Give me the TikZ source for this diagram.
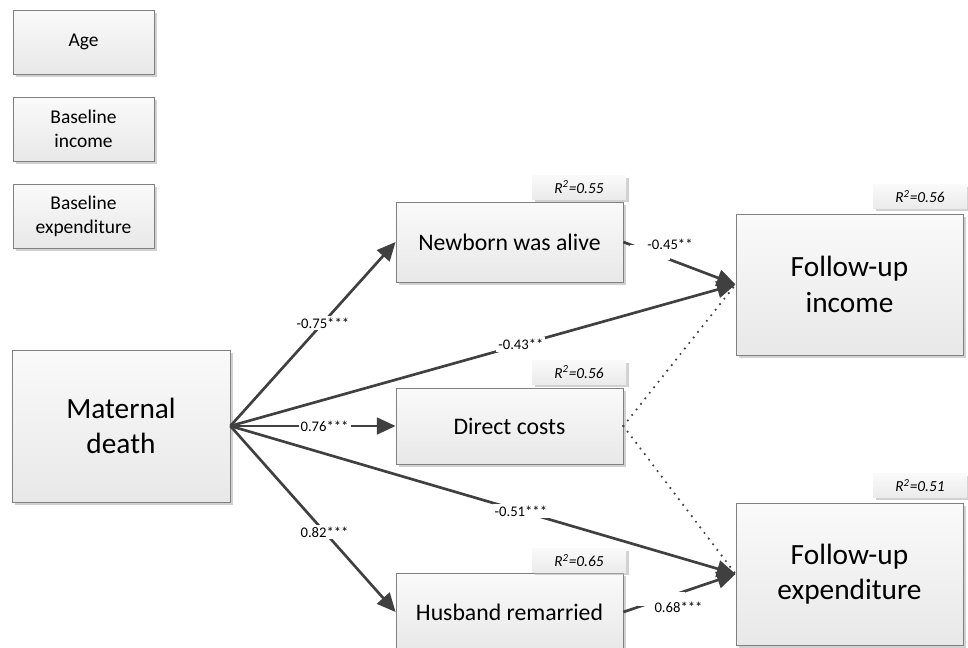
\documentclass[tikz,border=0pt]{standalone}
\usepackage{fontspec}
\setmainfont{Carlito}
\usetikzlibrary{arrows.meta,shadows}
\definecolor{edgegray}{HTML}{808080}
\definecolor{pathgray}{HTML}{404040}
\tikzset{
  boxshadow/.style={drop shadow={shadow xshift=2.2pt,shadow yshift=-2.2pt,fill=black!30,opacity=.6}},
  varbox/.style={draw=edgegray,line width=0.6pt,top color=white!98!black,bottom color=white!91!black,
    boxshadow,align=center,inner sep=2pt},
  smallbox/.style={varbox,minimum width=105.75pt,minimum height=48pt,font=\fontsize{14.6}{18}\selectfont},
  midbox/.style={varbox,minimum width=170.25pt,font=\fontsize{17.8}{21}\selectfont},
  bigbox/.style={varbox,font=\fontsize{22}{26.5}\selectfont},
  rbox/.style={top color=white!98!black,bottom color=white!92!black,boxshadow,
    minimum width=70.5pt,minimum height=18pt,inner sep=0pt,font=\fontsize{11.5}{13}\selectfont\itshape},
  path/.style={draw=pathgray,line width=2pt,-{Triangle[length=14pt,width=12.5pt]}},
  dotpath/.style={draw=pathgray,line width=1.8pt,line cap=round,dash pattern=on 0pt off 5.3pt},
  coef/.style={fill=white,inner sep=1.5pt,font=\fontsize{11}{13}\selectfont},
  gap/.style={fill=white,inner sep=0pt},
  coeftext/.style={inner sep=0pt,font=\fontsize{11}{13}\selectfont},
}
\begin{document}
\begin{tikzpicture}[x=0.75pt,y=-0.75pt]
\useasboundingbox (0,0) rectangle (968,647);
\clip (0,0) rectangle (968,647);

% control variables
\node[smallbox] (age)  at (83.5,42)  {Age};
\node[smallbox] (binc) at (83.5,129) {Baseline\\income};
\node[smallbox] (bexp) at (83.5,216) {Baseline\\expenditure};

% exposure, mediators and outcomes
\node[bigbox,minimum width=163.5pt,minimum height=114pt] (mat) at (121,426) {Maternal\\death};
\node[midbox,minimum height=60pt] (newb)  at (509.5,242) {Newborn was alive};
\node[midbox,minimum height=57pt] (dcost) at (509.5,426) {Direct costs};
\node[midbox,minimum height=58.5pt] (husb) at (509.5,612) {Husband remarried};
\node[bigbox,minimum width=170.25pt,minimum height=105.75pt] (finc) at (849.5,284.5) {Follow-up\\income};
\node[bigbox,minimum width=170.25pt,minimum height=106.5pt] (fexp) at (849.5,574) {Follow-up\\expenditure};

% explained variance
\node[rbox] (r1) at (579,187)   {R\textsuperscript{2}=0.55};
\node[rbox] (r2) at (579,372)   {R\textsuperscript{2}=0.56};
\node[rbox] (r3) at (579,560.5) {R\textsuperscript{2}=0.65};
\node[rbox] (r4) at (920,196.5) {R\textsuperscript{2}=0.56};
\node[rbox] (r5) at (920,485.5) {R\textsuperscript{2}=0.51};

% non-significant paths
\draw[dotpath] (dcost.east) -- (finc.west);
\draw[dotpath] (dcost.east) -- (fexp.west);

% significant paths
\draw[path] (mat.east) -- node[coef,pos=0.56] {-0.75***} (newb.west);
\draw[path] (mat.east) -- node[coef,pos=0.57] {0.76***} (dcost.west);
\draw[path] (mat.east) -- node[coef,pos=0.57] {0.82***} (husb.west);
\draw[path] (mat.east) -- node[coef,pos=0.575] {-0.43**} (finc.west);
\draw[path] (mat.east) -- node[coef,pos=0.575] {-0.51***} (fexp.west);
\draw[path] (newb.east) -- node[gap,pos=0.24,minimum width=30pt,minimum height=11pt] (g1) {} (finc.west);
\draw[path] (husb.east) -- node[gap,pos=0.34,minimum width=35pt,minimum height=11pt] (g2) {} (fexp.west);
\node[coeftext] (l1) at (670,244) {-0.45**};
\node[coeftext] (l2) at (678.5,607) {0.68***};
\end{tikzpicture}
\end{document}
